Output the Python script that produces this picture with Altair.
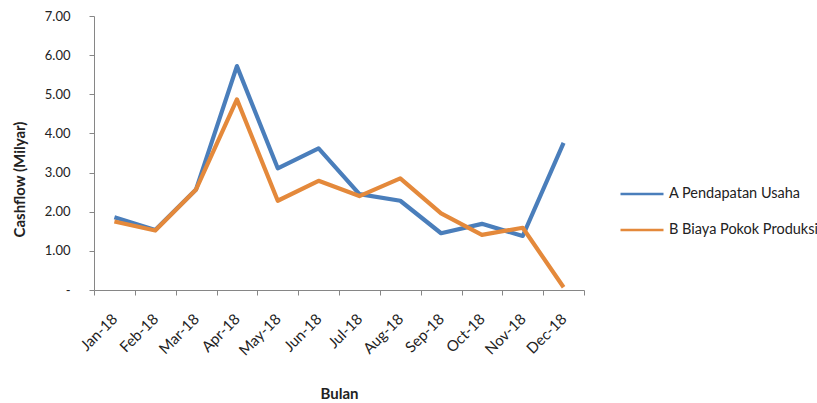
import altair as alt
import pandas as pd

months = ["Jan-18", "Feb-18", "Mar-18", "Apr-18", "May-18", "Jun-18",
          "Jul-18", "Aug-18", "Sep-18", "Oct-18", "Nov-18", "Dec-18"]
pendapatan = [1.86, 1.53, 2.57, 5.72, 3.11, 3.62, 2.45, 2.28, 1.45, 1.69, 1.38, 3.76]
biaya = [1.75, 1.52, 2.57, 4.87, 2.28, 2.79, 2.40, 2.85, 1.96, 1.41, 1.59, 0.07]
series_names = ["A Pendapatan Usaha", "B Biaya Pokok Produksi"]
colors = ["#4A7EBB", "#E4893B"]

rows = []
for m, a, b in zip(months, pendapatan, biaya):
    rows.append({"Bulan": m, "Seri": series_names[0], "Nilai": a})
    rows.append({"Bulan": m, "Seri": series_names[1], "Nilai": b})
df = pd.DataFrame(rows)

FONT = "Lato"

chart = alt.Chart(df).mark_line(strokeWidth=4.2, strokeJoin="round").encode(
    x=alt.X(
        "Bulan:N",
        sort=months,
        bandPosition=0.5,
        scale=alt.Scale(type="band", paddingInner=0, paddingOuter=0),
        axis=alt.Axis(
            title="Bulan",
            labelAngle=-45,
            labelAlign="right",
            labelBaseline="middle",
            labelPadding=21,
            labelFontSize=15,
            tickBand="extent",
            tickSize=5,
            titleY=103,
            titleBaseline="middle",
        ),
    ),
    y=alt.Y(
        "Nilai:Q",
        scale=alt.Scale(domain=[0, 7], nice=False),
        axis=alt.Axis(
            title="Cashflow (Milyar)",
            values=[0, 1, 2, 3, 4, 5, 6, 7],
            labelExpr="datum.value == 0 ? '-\u00a0\u00a0\u00a0' : format(datum.value, '.2f')",
            labelPadding=19,
            labelFontSize=13,
            tickSize=5,
            grid=False,
            titleX=-75,
            titleY=163,
            titleAngle=-90,
            titleAlign="center",
            titleBaseline="middle",
        ),
    ),
    color=alt.Color(
        "Seri:N",
        scale=alt.Scale(domain=series_names, range=colors),
        legend=alt.Legend(
            title=None,
            orient="none",
            legendX=525,
            legendY=155,
            symbolType="stroke",
            symbolSize=1849,
            symbolStrokeWidth=2.5,
            labelOffset=4,
            rowPadding=6,
            labelFontSize=14.5,
            labelFont=FONT,
            labelColor="#222222",
        ),
    ),
).properties(
    width=490,
    height=274,
    autosize=alt.AutoSizeParams(type="none"),
    padding={"left": 94, "top": 16, "right": 233, "bottom": 113},
).configure_view(
    stroke=None
).configure_axis(
    domainColor="#868686",
    tickColor="#868686",
    labelFont=FONT,
    labelColor="#222222",
    titleFont=FONT,
    titleFontSize=15,
    titleFontWeight="bold",
    titleColor="#222222",
    grid=False,
)

chart.save("out.html", embed_options={"renderer": "svg", "actions": False})
